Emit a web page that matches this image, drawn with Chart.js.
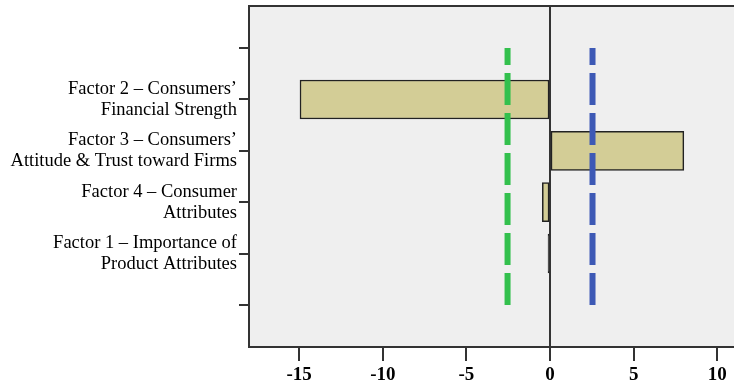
<!DOCTYPE html>
<html>
<head>
<meta charset="utf-8">
<script src="https://cdn.jsdelivr.net/npm/chart.js@4.4.1/dist/chart.umd.min.js"></script>
<style>
  body { margin: 0; background: #ffffff; }
</style>
</head>
<body>
<canvas id="fatores-chart" width="734" height="388"></canvas>
<script>
// Categorias (posições vazias no topo e na base, como no original)
const categorias = [
    "",
    ["Factor 2 \u2013 Consumers\u2019", "Financial Strength"],
    ["Factor 3 \u2013 Consumers\u2019", "Attitude & Trust toward Firms"],
    ["Factor 4 \u2013 Consumer", "Attributes"],
    ["Factor 1 \u2013 Importance of", "Product Attributes"],
    ""
];

// Valores das barras
const valores = [null, -14.95, 8.0, -0.46, -0.12, null];

// Linhas de referência (tracejadas)
const limiteInferior = -2.54;
const limiteSuperior = 2.54;

// Ticks do eixo X
const xMin = -18;
const xMax = 11;
const xPasso = 5;

// Fundo cinza e borda superior da área do gráfico
const fundoPlugin = {
    id: 'fundo',
    beforeDraw(chart) {
        const { ctx, chartArea } = chart;
        ctx.save();
        ctx.fillStyle = '#efefef';
        ctx.fillRect(chartArea.left, chartArea.top, chartArea.right - chartArea.left, chartArea.bottom - chartArea.top);
        ctx.strokeStyle = '#333333';
        ctx.lineWidth = 2;
        ctx.beginPath();
        ctx.moveTo(chartArea.left, chartArea.top);
        ctx.lineTo(chartArea.right, chartArea.top);
        ctx.stroke();
        ctx.restore();
    }
};

const barData = valores.map((v, i) => ({ x: v, y: i }));
const primeiro = 0;
const ultimo = categorias.length - 1;

const chart = new Chart(document.getElementById("fatores-chart"), {
    type: 'bar',
    data: {
        datasets: [
            {
                type: 'line',
                data: [{ x: limiteInferior, y: ultimo }, { x: limiteInferior, y: primeiro }],
                borderColor: '#33c04d',
                borderWidth: 6,
                borderDash: [32, 8],
                pointRadius: 0,
                order: 0
            },
            {
                type: 'line',
                data: [{ x: limiteSuperior, y: ultimo }, { x: limiteSuperior, y: primeiro }],
                borderColor: '#3d59b5',
                borderWidth: 6,
                borderDash: [32, 8],
                pointRadius: 0,
                order: 0
            },
            {
                type: 'bar',
                data: barData,
                // barras muito finas ficam só com a cor da borda
                backgroundColor: ctx => (ctx.raw && Math.abs(ctx.raw.x) < 0.2 ? '#222222' : '#d3cd96'),
                borderColor: '#222222',
                borderWidth: 1.5,
                borderSkipped: false,
                barThickness: 39,
                order: 1
            }
        ]
    },
    options: {
        indexAxis: 'y',
        responsive: false,
        animation: false,
        layout: { padding: { top: 6, left: 0, right: 0, bottom: 0 } },
        plugins: {
            legend: { display: false },
            tooltip: { enabled: false }
        },
        scales: {
            x: {
                type: 'linear',
                min: xMin,
                max: xMax,
                border: { color: '#333333', width: 2 },
                grid: {
                    color: ctx => (ctx.tick && ctx.tick.value === 0 ? '#333333' : 'rgba(0,0,0,0)'),
                    lineWidth: 2,
                    tickColor: '#333333',
                    tickLength: 14
                },
                ticks: {
                    stepSize: xPasso,
                    includeBounds: false,
                    color: '#000000',
                    padding: 3,
                    font: { family: 'Liberation Serif', size: 19, weight: 'bold' }
                },
                afterFit(scale) { scale.height = 41; }
            },
            y: {
                type: 'linear',
                reverse: true,
                offset: false,
                min: -0.82,
                max: ultimo + 0.82,
                border: { color: '#333333', width: 2 },
                grid: {
                    offset: false,
                    drawOnChartArea: false,
                    lineWidth: 2,
                    tickColor: '#333333',
                    tickLength: 10
                },
                afterBuildTicks(scale) {
                    scale.ticks = categorias.map((c, i) => ({ value: i }));
                },
                ticks: {
                    color: '#000000',
                    padding: 2,
                    font: { family: 'Liberation Serif', size: 18.5, lineHeight: '21px' },
                    callback: (value) => categorias[value]
                },
                afterFit(scale) {
                    scale.width = 249;
                    scale.paddingTop = 0;
                    scale.paddingBottom = 0;
                }
            }
        }
    },
    plugins: [fundoPlugin]
});
</script>
</body>
</html>
